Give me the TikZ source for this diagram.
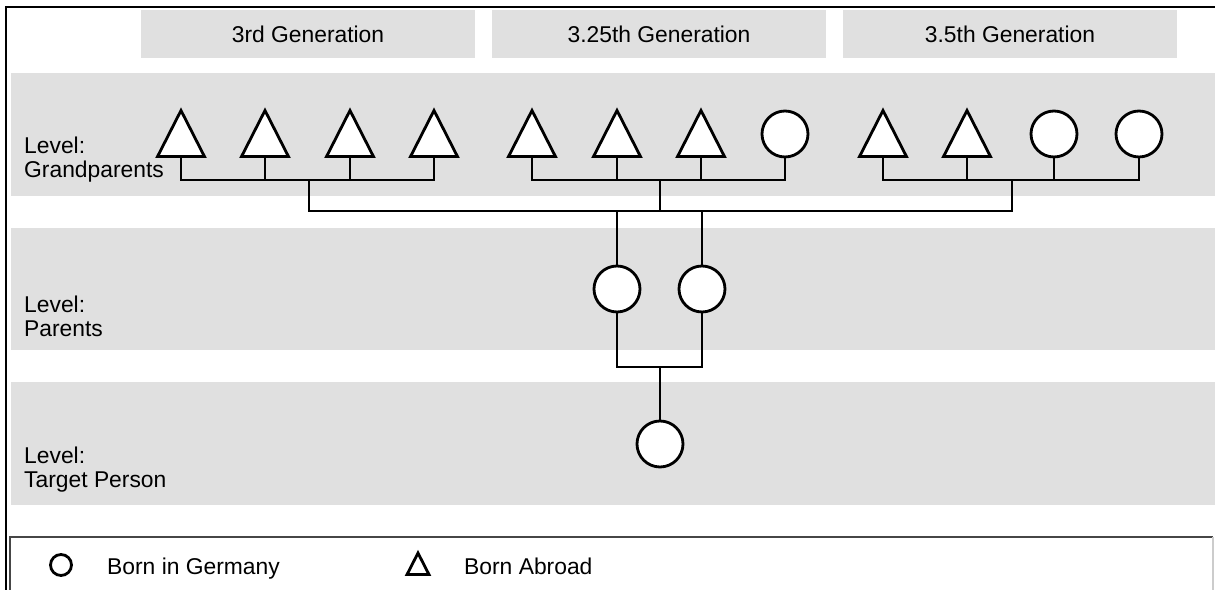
\documentclass[tikz,border=0pt]{standalone}
\usepackage{fontspec}
\setmainfont{Liberation Sans}
\usepackage{tikz}
\usetikzlibrary{positioning, calc, shapes.geometric}

\definecolor{bandgray}{RGB}{224,224,224}
\definecolor{legendline}{RGB}{70,70,70}

\begin{document}
\begin{tikzpicture}[
		% one unit = one pixel of the layout, y runs downwards
		x=0.02cm, y=-0.02cm,
		person/.style={draw=black, fill=white, line width=1.6pt, inner sep=0pt},
		born/.style={person, circle, minimum size=0.92cm},
		abroad/.style={person, isosceles triangle, isosceles triangle apex angle=54,
			shape border rotate=90, minimum height=0.92cm, minimum width=0.94cm},
		link/.style={line width=1.6pt, line cap=rect},
		header/.style={fill=bandgray, minimum width=6.68cm, minimum height=0.96cm,
			font=\fontsize{13}{15}\selectfont},
		levellabel/.style={anchor=west, align=left, font=\fontsize{13}{13.7}\selectfont},
		legendtext/.style={anchor=base west, font=\fontsize{13}{15}\selectfont}
		]
		\useasboundingbox (0,0) rectangle (1215,590);
		
		% --- BANDS ---
		\fill[bandgray] (11,73) rectangle (1215,196);
		\fill[bandgray] (11,228) rectangle (1215,350);
		\fill[bandgray] (11,382) rectangle (1215,505);
		
		% --- HEADERS ---
		\node[header] (h1) at (308,34) {3rd Generation};
		\node[header] (h2) at (659,34) {3.25th Generation};
		\node[header] (h3) at (1010,34) {3.5th Generation};
		
		% --- LEVEL LABELS ---
		\node[levellabel] (lg) at (18,160) {Level:\\Grandparents};
		\node[levellabel] (lp) at (18,316) {Level:\\Parents};
		\node[levellabel] (lt) at (18,470) {Level:\\Target Person};
		
		% --- GRANDPARENTS ---
		\node[abroad, anchor=south] (g1) at (181,158) {};
		\node[abroad, anchor=south] (g2) at (265,158) {};
		\node[abroad, anchor=south] (g3) at (350,158) {};
		\node[abroad, anchor=south] (g4) at (434,158) {};
		\node[abroad, anchor=south] (g5) at (532,158) {};
		\node[abroad, anchor=south] (g6) at (617,158) {};
		\node[abroad, anchor=south] (g7) at (701,158) {};
		\node[born] (g8) at (785,134) {};
		\node[abroad, anchor=south] (g9) at (883,158) {};
		\node[abroad, anchor=south] (g10) at (967,158) {};
		\node[born] (g11) at (1054,134) {};
		\node[born] (g12) at (1139,134) {};
		
		% --- PARENTS AND TARGET ---
		\node[born] (p1) at (617,289) {};
		\node[born] (p2) at (702,289) {};
		\node[born] (t) at (660,444) {};
		
		% --- CONNECTORS ---
		\coordinate (b1) at (309,180);
		\coordinate (b2) at (660,180);
		\coordinate (b3) at (1012,180);
		\coordinate (top) at (660,211);
		\coordinate (pj) at (660,367);
		
		\foreach \i in {1,...,4} {\draw[link] (g\i.south) |- (b1);}
		\foreach \i in {5,...,8} {\draw[link] (g\i.south) |- (b2);}
		\foreach \i in {9,...,12} {\draw[link] (g\i.south) |- (b3);}
		\draw[link] (b1) |- (top);
		\draw[link] (b3) |- (top);
		\draw[link] (b2) -- (top);
		\draw[link] (p1.north) |- (top);
		\draw[link] (p2.north) |- (top);
		\draw[link] (p1.south) |- (pj);
		\draw[link] (p2.south) |- (pj);
		\draw[link] (pj) -- (t.north);
		
		% --- FRAME ---
		\draw[line width=1.5pt] (6,592) -- (6,7) -- (1215,7);
		
		% --- LEGEND ---
		\draw[legendline, line width=1.1pt] (10,592) -- (10,537) -- (1213,537);
		\draw[gray!40, line width=0.6pt] (1213,537) -- (1213,592);
		\node[person, circle, minimum size=0.42cm] (lc) at (61,565) {};
		\node[person, isosceles triangle, isosceles triangle apex angle=54, anchor=south,
			shape border rotate=90, minimum height=0.42cm, minimum width=0.44cm] (la) at (418,576) {};
		\node[legendtext] (lct) at (101,575) {Born in Germany};
		\node[legendtext] (lat) at (458,575) {Born Abroad};
		
\end{tikzpicture}
\end{document}
